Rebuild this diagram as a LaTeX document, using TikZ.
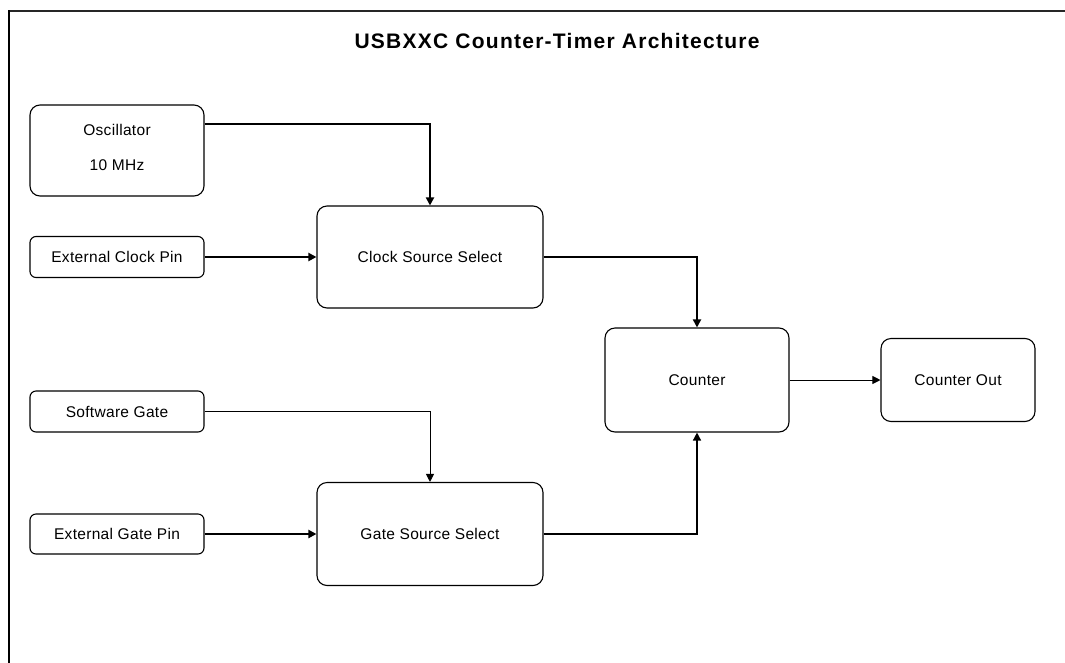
\documentclass[tikz,border=0pt]{standalone}
\usepackage{fontspec}
\setmainfont{Liberation Sans}[LetterSpace=2]
\newfontfamily\titlefont{Liberation Sans}[LetterSpace=6]
\usetikzlibrary{arrows.meta}
\begin{document}
\begin{tikzpicture}[x=1pt,y=-1pt,
  blk/.style={draw=black, line width=1.1pt, rounded corners=#1, font=\fontsize{15.5}{18}\selectfont, inner sep=0pt},
  blk/.default=10pt,
  wire/.style={draw=black, line width=#1, -{Triangle[length=8pt,width=8pt]}},
  wire/.default=1.8pt]
\useasboundingbox (0,0) rectangle (1065,662);
% frame
\draw[black!85, line width=1.5pt] (9,11) -- (1066,11);
\draw[black, line width=2.2pt] (9,10.3) -- (9,663);
% title
\node[font=\titlefont\bfseries\fontsize{21}{24}\selectfont] (title) at (557,41) {USBXXC Counter-Timer Architecture};
% blocks
\node[blk, minimum width=174pt, minimum height=91pt, align=center, text depth=7pt] (osc) at (117,150.5)
  {Oscillator\\[17pt]10 MHz};
\node[blk=6pt, minimum width=174pt, minimum height=41pt] (ecp) at (117,257) {External Clock Pin};
\node[blk, minimum width=226pt, minimum height=102pt] (css) at (430,257) {Clock Source Select};
\node[blk=6pt, minimum width=174pt, minimum height=41pt] (sg) at (117,411.5) {Software Gate};
\node[blk=6pt, minimum width=174pt, minimum height=40pt] (egp) at (117,534) {External Gate Pin};
\node[blk, minimum width=226pt, minimum height=103pt] (gss) at (430,534) {Gate Source Select};
\node[blk, minimum width=184pt, minimum height=104pt] (cnt) at (697,380) {Counter};
\node[blk, minimum width=154pt, minimum height=83pt] (cout) at (958,380) {Counter Out};
% connectors
\draw[wire=1.8pt] ([yshift=26.5pt]osc.east) -| (css.north);
\draw[wire=2.2pt] (ecp.east) -- (css.west);
\draw[wire=1.8pt] (css.east) -| (cnt.north);
\draw[wire=1pt] (sg.east) -| (gss.north);
\draw[wire=2pt] (egp.east) -- (gss.west);
\draw[wire=1.5pt] (gss.east) -| (cnt.south);
\draw[wire=1pt] (cnt.east) -- (cout.west);
\end{tikzpicture}
\end{document}
